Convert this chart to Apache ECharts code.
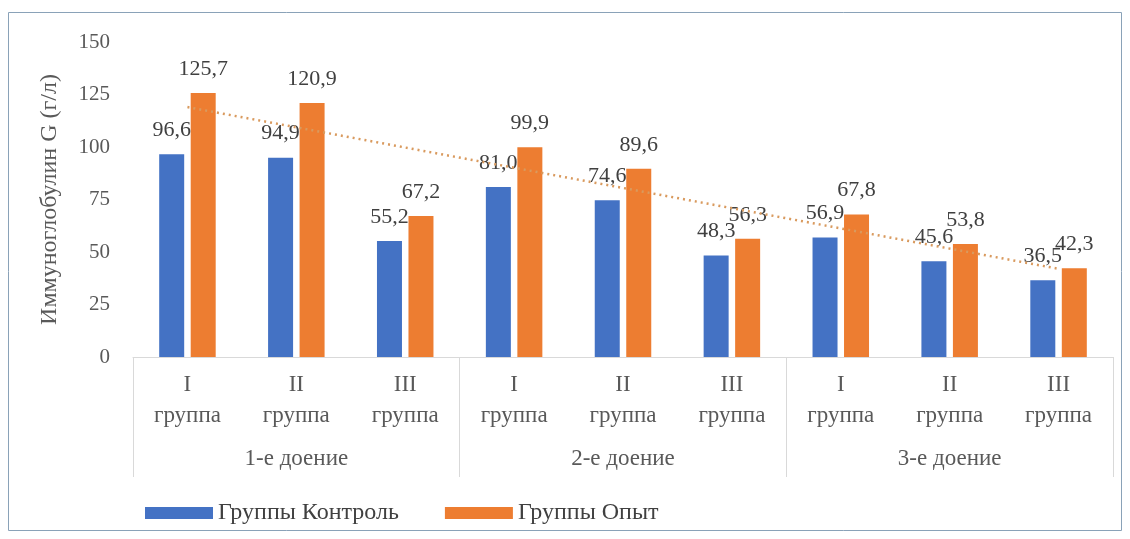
<!DOCTYPE html>
<html><head><meta charset="utf-8">
<script src="https://cdn.jsdelivr.net/npm/echarts@6/dist/echarts.min.js"></script>
<style>html,body{margin:0;padding:0;background:#fff}#c{width:1130px;height:539px}</style>
</head><body><div id="c"></div>
<script>
var groups = ['I\nгруппа','II\nгруппа','III\nгруппа','I\nгруппа','II\nгруппа','III\nгруппа','I\nгруппа','II\nгруппа','III\nгруппа'];
var milkings = ['1-е доение','2-е доение','3-е доение'];
var control = [96.6, 94.9, 55.2, 81.0, 74.6, 48.3, 56.9, 45.6, 36.5];
var opyt = [125.7, 120.9, 67.2, 99.9, 89.6, 56.3, 67.8, 53.8, 42.3];
var trendStart = 119;
var trendEnd = 42;
var yTicks = [0, 25, 50, 75, 100, 125, 150];

var trend = groups.map(function(_, i){ return i === 0 ? trendStart : (i === groups.length-1 ? trendEnd : '-'); });
var font = '"Liberation Serif", "Times New Roman", serif';
var fmt = function(p){ return p.value.toFixed(1).replace('.', ','); };

var chart = echarts.init(document.getElementById('c'));
chart.setOption({
  animation: false,
  textStyle: {fontFamily: font},
  graphic: [{type:'rect', shape:{x:8.5,y:12.5,width:1113,height:518}, style:{fill:'none', stroke:'#8aa2b8', lineWidth:1}, silent:true}],
  grid: {left:133, right:17, top:42, bottom:182},
  legend: {
    top: 496, left: 140, itemWidth: 68, itemHeight: 12, itemGap: 46, icon:'rect',
    textStyle: {fontFamily: font, fontSize: 24, color:'#404040'},
    data: ['Группы Контроль','Группы Опыт']
  },
  xAxis: [{
    type:'category', data: groups,
    axisLine:{show:true, lineStyle:{color:'#d9d9d9'}},
    axisTick:{show:false},
    axisLabel:{fontFamily: font, fontSize:23, color:'#595959', lineHeight:31, margin:12, interval:0}
  },{
    type:'category', data: milkings, position:'bottom', offset: 120,
    axisLine:{show:false},
    axisTick:{show:true, inside:true, length:120, lineStyle:{color:'#d9d9d9'}},
    axisLabel:{inside:true, margin:7, fontFamily: font, fontSize:23, color:'#595959'}
  }],
  yAxis: {
    type:'value', min:0, max:150, interval:25,
    name:'Иммуноглобулин G (г/л)', nameLocation:'middle', nameGap:71,
    nameTextStyle:{fontFamily: font, fontSize:24, color:'#595959'},
    axisLine:{show:false}, axisTick:{show:false}, splitLine:{show:false},
    axisLabel:{fontFamily: font, fontSize:21, color:'#595959', margin:23,
      formatter:function(v){ return yTicks.indexOf(v) >= 0 ? String(v) : ''; }}
  },
  series: [{
    name:'Группы Контроль', type:'bar', data: control, barWidth:25, barGap:'26%',
    itemStyle:{color:'#4472C4'},
    label:{show:true, position:'top', distance:13, fontFamily: font, fontSize:22, color:'#404040', formatter: fmt}
  },{
    name:'Группы Опыт', type:'bar', data: opyt, barWidth:25,
    itemStyle:{color:'#ED7D31'},
    label:{show:true, position:'top', distance:13, fontFamily: font, fontSize:22, color:'#404040', formatter: fmt}
  },{
    name:'Тренд', type:'line', data: trend, connectNulls:true, symbol:'none', z:5,
    lineStyle:{color:'#D99A5E', width:2.5, type:[2,4]}, silent:true
  }]
});
</script></body></html>
